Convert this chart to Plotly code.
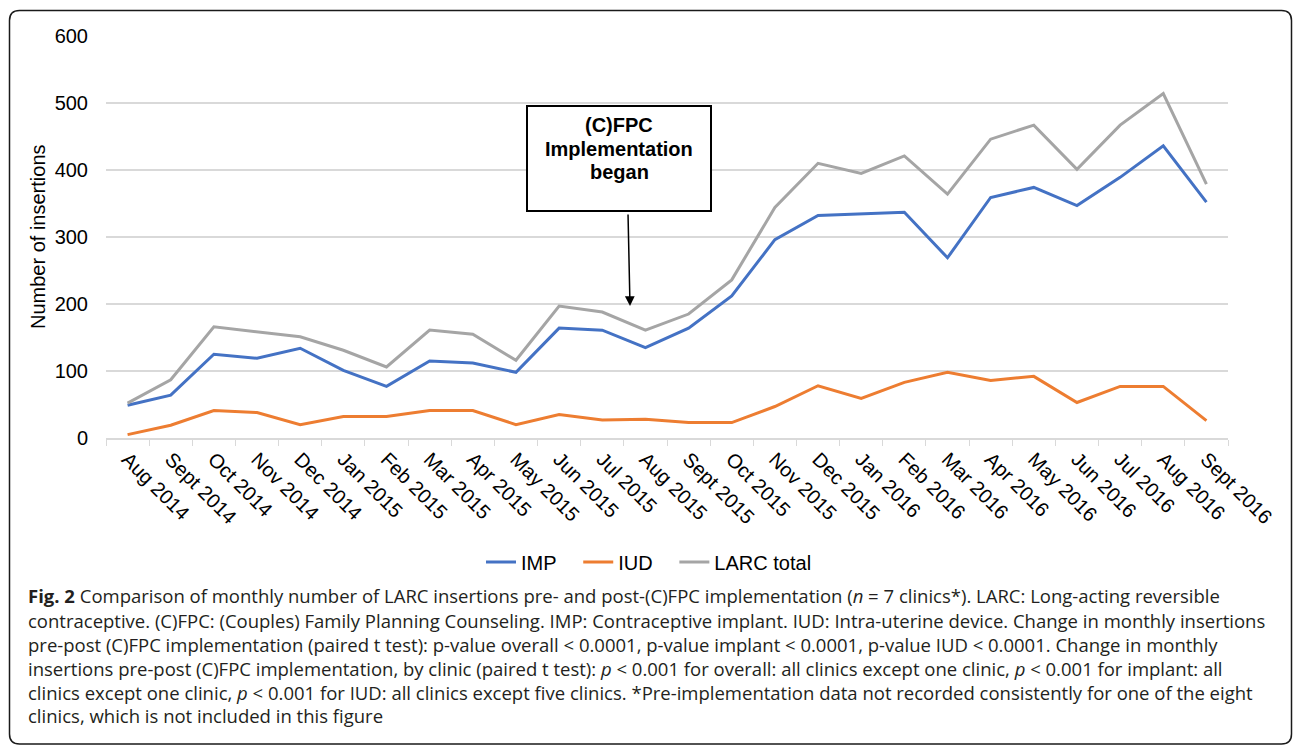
import plotly.graph_objects as go

months = ["Aug 2014", "Sept 2014", "Oct 2014", "Nov 2014", "Dec 2014", "Jan 2015",
          "Feb 2015", "Mar 2015", "Apr 2015", "May 2015", "Jun 2015", "Jul 2015",
          "Aug 2015", "Sept 2015", "Oct 2015", "Nov 2015", "Dec 2015", "Jan 2016",
          "Feb 2016", "Mar 2016", "Apr 2016", "May 2016", "Jun 2016", "Jul 2016",
          "Aug 2016", "Sept 2016"]
imp = [49, 64, 125, 119, 134, 101, 77, 115, 112, 98, 164, 161, 135, 164, 212,
       296, 332, 334, 337, 269, 359, 374, 347, 389, 436, 352]
iud = [5, 19, 41, 38, 20, 32, 32, 41, 41, 20, 35, 27, 28, 23, 23, 47, 78, 59,
       83, 98, 86, 92, 53, 77, 77, 26]
larc = [52, 87, 166, 158, 151, 131, 106, 161, 155, 116, 197, 188, 161, 185, 236,
        344, 410, 395, 421, 364, 446, 467, 401, 467, 514, 379]
y_ticks = [0, 100, 200, 300, 400, 500, 600]

caption_lines = [
    "<b>Fig. 2</b> Comparison of monthly number of LARC insertions pre- and post-(C)FPC implementation (<i>n</i> = 7 clinics*). LARC: Long-acting reversible",
    "contraceptive. (C)FPC: (Couples) Family Planning Counseling. IMP: Contraceptive implant. IUD: Intra-uterine device. Change in monthly insertions",
    "pre-post (C)FPC implementation (paired t test): p-value overall &lt; 0.0001, p-value implant &lt; 0.0001, p-value IUD &lt; 0.0001. Change in monthly",
    "insertions pre-post (C)FPC implementation, by clinic (paired t test): <i>p</i> &lt; 0.001 for overall: all clinics except one clinic, <i>p</i> &lt; 0.001 for implant: all",
    "clinics except one clinic, <i>p</i> &lt; 0.001 for IUD: all clinics except five clinics. *Pre-implementation data not recorded consistently for one of the eight",
    "clinics, which is not included in this figure",
]

W, H = 1293, 745
L, R, T, B = 106, 1228, 36, 438  # plot area in pixels


def px(x):
    return (x - L) / (R - L)


def py(y):
    return (B - y) / (B - T)


PAD = "\u00a0\u00a0\u00a0"
fig = go.Figure()
fig.add_trace(go.Scatter(x=months, y=imp, name="IMP" + PAD, mode="lines",
                         line=dict(color="#4472C4", width=3)))
fig.add_trace(go.Scatter(x=months, y=iud, name="IUD" + PAD, mode="lines",
                         line=dict(color="#ED7D31", width=3)))
fig.add_trace(go.Scatter(x=months, y=larc, name="LARC total", mode="lines",
                         line=dict(color="#A5A5A5", width=3)))

shapes = []
r = 10
x0, y0, x1, y1 = 9.5, 10.5, 1291.5, 744
path = (f"M {px(x0+r)} {py(y0)} L {px(x1-r)} {py(y0)} "
        f"Q {px(x1)} {py(y0)} {px(x1)} {py(y0+r)} "
        f"L {px(x1)} {py(y1-r)} Q {px(x1)} {py(y1)} {px(x1-r)} {py(y1)} "
        f"L {px(x0+r)} {py(y1)} Q {px(x0)} {py(y1)} {px(x0)} {py(y1-r)} "
        f"L {px(x0)} {py(y0+r)} Q {px(x0)} {py(y0)} {px(x0+r)} {py(y0)} Z")
shapes.append(dict(type="path", xref="paper", yref="paper", path=path,
                   line=dict(color="#1a1a1a", width=1.5), layer="below"))
shapes.append(dict(type="rect", xref="paper", yref="paper",
                   x0=px(527), x1=px(711), y0=py(106), y1=py(211),
                   line=dict(color="black", width=2), fillcolor="white"))

annotations = []
for txt, yy in [("(C)FPC", 125), ("Implementation", 149), ("began", 172)]:
    annotations.append(dict(xref="paper", yref="paper", x=px(619), y=py(yy),
                            text=f"<b>{txt}</b>", showarrow=False,
                            xanchor="center", yanchor="middle",
                            font=dict(family="Liberation Sans, Arial", size=20, color="black")))
annotations.append(dict(xref="paper", yref="paper", x=px(630), y=py(306),
                        ax=-2, ay=-93, text="", showarrow=True,
                        arrowhead=2, arrowsize=1.3, arrowwidth=1.5, arrowcolor="black"))
annotations.append(dict(xref="paper", yref="paper", x=px(38), y=py(237),
                        text="Number of insertions", textangle=-90, showarrow=False,
                        xanchor="center", yanchor="middle",
                        font=dict(family="Liberation Sans, Arial", size=20, color="black")))
cap_y = [595, 620, 644, 668, 692, 716]
for txt, yy in zip(caption_lines, cap_y):
    annotations.append(dict(xref="paper", yref="paper", x=px(26), y=py(yy),
                            text=txt, showarrow=False, xanchor="left", yanchor="middle",
                            font=dict(family="Open Sans", size=18.5, color="#231f20")))

fig.update_layout(
    width=W, height=H,
    margin=dict(l=L, r=W - R, t=T, b=H - B),
    paper_bgcolor="white", plot_bgcolor="white",
    showlegend=True,
    legend=dict(orientation="h", x=px(649), y=py(562), xanchor="center", yanchor="middle",
                font=dict(family="Liberation Sans, Arial", size=20, color="black"),
                tracegroupgap=0),
    shapes=shapes,
    annotations=annotations,
    xaxis=dict(type="category", range=[-0.5, len(months) - 0.5],
               showline=True, linecolor="#d9d9d9", linewidth=1.5,
               ticks="outside", tickson="boundaries", ticklen=6, tickcolor="#d9d9d9",
               tickangle=45, showgrid=False,
               tickfont=dict(family="Liberation Sans, Arial", size=20, color="black")),
    yaxis=dict(range=[0, 600], tickvals=y_ticks, showgrid=True, gridcolor="#d9d9d9",
               gridwidth=1.5, zeroline=False, showline=False, ticks="",
               ticklabelstandoff=17,
               tickfont=dict(family="Liberation Sans, Arial", size=20, color="black")),
)

fig.write_html("out.html", config={"displayModeBar": False},
               post_script="document.body.style.margin='0';document.body.style.overflow='hidden';")
